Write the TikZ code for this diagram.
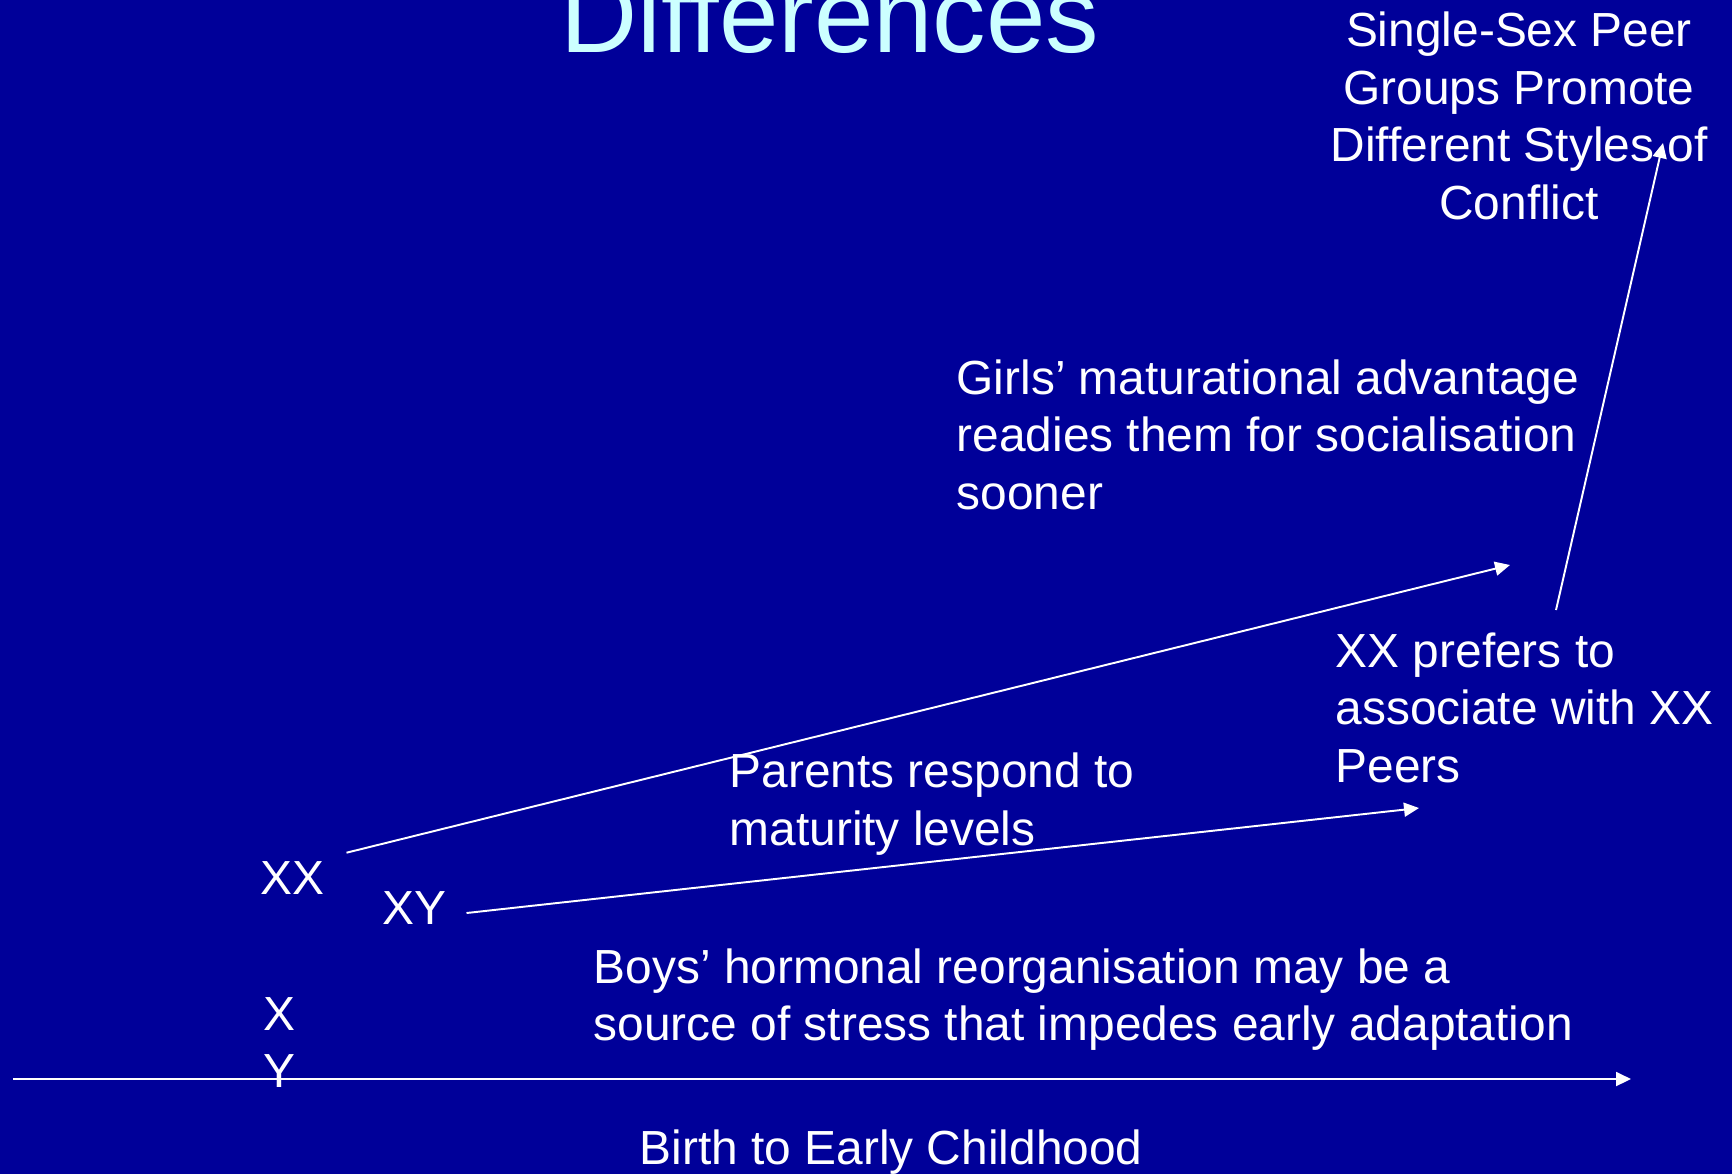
\documentclass[tikz,border=0pt]{standalone}
\usepackage{fontspec}
\setmainfont{Liberation Sans}
\usetikzlibrary{arrows.meta}
\definecolor{slideblue}{RGB}{0,0,153}
\definecolor{titlecyan}{RGB}{204,255,255}

\begin{document}
\begin{tikzpicture}[
  txt/.style={text=white, inner sep=0pt, align=left, anchor=base west,
    font=\fontsize{13.62}{16.36}\selectfont},
  arr/.style={white, line width=0.55pt, -{Triangle[length=0.15cm,width=0.14cm]}}
]
% slide background
\fill[slideblue] (0,0) rectangle (17.32,-11.74);
\useasboundingbox (0,0) rectangle (17.32,-11.74);
\clip (0,0) rectangle (17.32,-11.74);
% title, cut off at the top
\node[inner sep=0pt, anchor=base west, text=titlecyan,
  font=\fontsize{30.4}{36}\selectfont] (title) at (5.60,-0.52) {Differences};
% labels (placed at the baseline of their last line)
\node[txt, align=center, anchor=base] (peer) at (15.19,-2.19)
  {Single-Sex Peer\\Groups Promote\\Different Styles of\\Conflict};
\node[txt] (girls) at (9.56,-5.09)
  {Girls’ maturational advantage\\readies them for socialisation\\sooner};
\node[txt] (prefers) at (13.35,-7.82)
  {XX prefers to\\associate with XX\\Peers};
\node[txt] (parents) at (7.29,-8.45) {Parents respond to\\maturity levels};
\node[txt] (xx) at (2.60,-8.94) {XX};
\node[txt] (xy) at (3.82,-9.245) {XY};
\node[txt] (boys) at (5.93,-10.408)
  {Boys’ hormonal reorganisation may be a\\source of stress that impedes early adaptation};
\node[txt] (xandy) at (2.63,-10.875) {X\\Y};
\node[txt] (birth) at (6.39,-11.64) {Birth to Early Childhood};
% arrow ends
\coordinate (xxout) at (3.465,-8.527);
\coordinate (xxend) at (15.10,-5.65);
\coordinate (xyout) at (4.665,-9.13);
\coordinate (xyend) at (14.19,-8.08);
\coordinate (peerout) at (15.56,-6.10);
\coordinate (peerend) at (16.63,-1.43);
\coordinate (axisstart) at (0.13,-10.79);
\coordinate (axisend) at (16.31,-10.79);
% arrows
\draw[arr] (axisstart) -- (axisend);
\draw[arr] (xxout) -- (xxend);
\draw[arr] (xyout) -- (xyend);
\draw[arr] (peerout) -- (peerend);
\end{tikzpicture}
\end{document}
